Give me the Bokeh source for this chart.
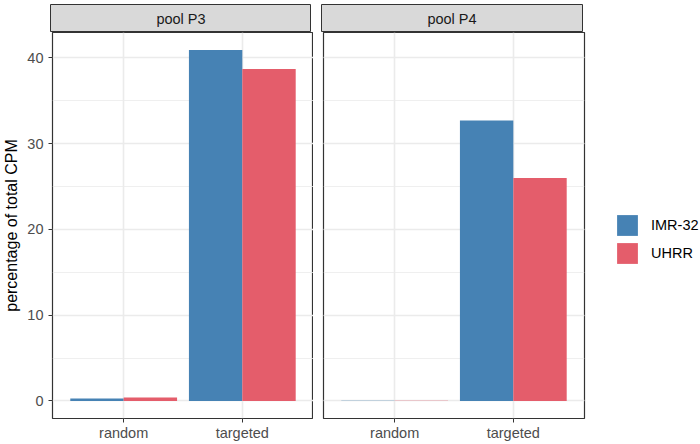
from bokeh.plotting import figure
from bokeh.models import (Range1d, FixedTicker, Grid, Legend, LegendItem,
                          ColumnDataSource)
from bokeh.layouts import column, row
from bokeh.embed import file_html
from bokeh.resources import INLINE
from bokeh.core.properties import value
from bokeh.transform import dodge

# ---- data -----------------------------------------------------------------
categories = ["random", "targeted"]
pools = ["pool P3", "pool P4"]
samples = ["IMR-32", "UHRR"]
p3_imr32 = [0.3, 40.9]
p3_uhrr = [0.4, 38.7]
p4_imr32 = [0.03, 32.7]
p4_uhrr = [0.03, 26.0]
y_ticks = [0, 10, 20, 30, 40]
y_minor = [5, 15, 25, 35]

colors = {"IMR-32": "#4682B4", "UHRR": "#E45D6B"}
FONT = "Liberation Sans"
GRID = "#ebebeb"
DARK = "#333333"

# ---- geometry --------------------------------------------------------------
FRAME_W = 261
FRAME_H = 386
STRIP_H = 28
LEFT = 50
GAP = 10
RIGHT = 700 - LEFT - GAP - 2 * FRAME_W
BOTTOM = 26

ymax = max(p3_imr32 + p3_uhrr + p4_imr32 + p4_uhrr)
pad = 0.05 * ymax
xpos = [i + 1 for i in range(len(categories))]
bar_w = 0.9 / len(samples)


def strip(label, left, right, top):
    s = figure(frame_width=FRAME_W, frame_height=STRIP_H,
               x_range=Range1d(0, 1), y_range=Range1d(0, 1),
               toolbar_location=None, output_backend="svg",
               x_axis_location=None, y_axis_location=None,
               min_border=0, min_border_left=left, min_border_right=right,
               min_border_top=top, min_border_bottom=0)
    s.grid.visible = False
    s.background_fill_color = "#d9d9d9"
    s.outline_line_color = DARK
    s.outline_line_width = 1
    src = ColumnDataSource(dict(x=[0.5], y=[0.5], t=[label]))
    s.text(x="x", y="y", text="t", source=src, text_align="center",
           text_baseline="middle", text_font=value(FONT),
           text_font_size="14.5px", text_color="#1a1a1a")
    return s


def panel(imr, uhrr, left, right, with_axis):
    p = figure(frame_width=FRAME_W, frame_height=FRAME_H,
               x_range=Range1d(0.4, len(categories) + 0.6),
               y_range=Range1d(-pad, ymax + pad),
               toolbar_location=None, output_backend="svg",
               y_axis_location="left" if with_axis else None,
               min_border=0, min_border_left=left, min_border_right=right,
               min_border_top=0, min_border_bottom=BOTTOM)
    p.background_fill_color = "white"
    p.outline_line_color = DARK
    p.outline_line_width = 1.2

    yticker = FixedTicker(ticks=y_ticks, minor_ticks=y_minor)
    xticker = FixedTicker(ticks=xpos)

    # x axis
    xa = p.xaxis[0]
    xa.ticker = xticker
    xa.major_label_overrides = {x: c for x, c in zip(xpos, categories)}
    xa.axis_line_color = None
    xa.major_tick_out = 4
    xa.major_tick_in = 0
    xa.minor_tick_out = 0
    xa.minor_tick_in = 0
    xa.major_tick_line_color = DARK
    xa.major_label_text_color = "#4d4d4d"
    xa.major_label_text_font = FONT
    xa.major_label_text_font_size = "14.5px"
    xa.major_label_standoff = 2

    p.xgrid.ticker = xticker
    p.xgrid.grid_line_color = GRID
    p.xgrid.grid_line_width = 1.6

    if with_axis:
        ya = p.yaxis[0]
        ya.ticker = yticker
        ya.axis_line_color = None
        ya.major_tick_out = 4
        ya.major_tick_in = 0
        ya.minor_tick_out = 0
        ya.minor_tick_in = 0
        ya.major_tick_line_color = DARK
        ya.major_label_text_color = "#4d4d4d"
        ya.major_label_text_font = FONT
        ya.major_label_text_font_size = "14.5px"
        ya.major_label_standoff = 5
        ya.axis_label = "percentage of total CPM"
        ya.axis_label_text_font = FONT
        ya.axis_label_text_font_size = "16px"
        ya.axis_label_text_font_style = "normal"
        ya.axis_label_text_color = "black"
        ya.axis_label_standoff = 4
        g = p.ygrid[0]
    else:
        g = Grid(dimension=1, ticker=yticker)
        p.add_layout(g)
    g.grid_line_color = GRID
    g.grid_line_width = 1.6
    g.minor_grid_line_color = GRID
    g.minor_grid_line_width = 0.8

    src = ColumnDataSource(dict(x=xpos, imr=imr, uhrr=uhrr))
    r1 = p.vbar(x=dodge("x", -bar_w / 2), top="imr", bottom=0, width=bar_w,
                source=src, fill_color=colors["IMR-32"], line_color=None)
    r2 = p.vbar(x=dodge("x", bar_w / 2), top="uhrr", bottom=0, width=bar_w,
                source=src, fill_color=colors["UHRR"], line_color=None)
    return p, r1, r2


s1 = strip(pools[0], LEFT, 0, 4)
s2 = strip(pools[1], GAP, RIGHT, 4)
p1, _, _ = panel(p3_imr32, p3_uhrr, LEFT, 0, True)
p2, b1, b2 = panel(p4_imr32, p4_uhrr, GAP, RIGHT, False)

legend = Legend(items=[LegendItem(label=samples[0], renderers=[b1]),
                       LegendItem(label=samples[1], renderers=[b2])],
                location=(30, 152), orientation="vertical",
                glyph_width=26, glyph_height=26, label_height=26,
                label_standoff=11, spacing=2, padding=0, margin=0,
                border_line_color=None, background_fill_alpha=0,
                label_text_font=FONT, label_text_font_size="14.5px",
                label_text_color="black")
p2.add_layout(legend, "right")

layout = column(row(s1, s2), row(p1, p2))
open("out.html", "w").write(file_html(layout, INLINE))
